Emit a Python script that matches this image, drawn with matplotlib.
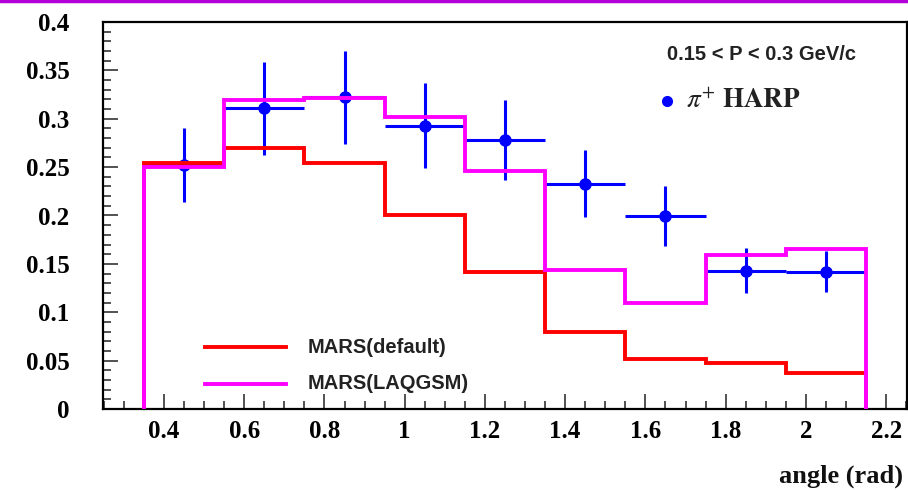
import numpy as np
import matplotlib
matplotlib.use("Agg")
import matplotlib.pyplot as plt
from matplotlib.lines import Line2D
from matplotlib.ticker import MultipleLocator

plt.rcParams['mathtext.fontset'] = 'stix'

# Data
bin_edges = [0.35, 0.55, 0.75, 0.95, 1.15, 1.35, 1.55, 1.75, 1.95, 2.15]
mars_default = [0.254, 0.270, 0.254, 0.201, 0.142, 0.080, 0.052, 0.048, 0.037]
mars_laqgsm = [0.250, 0.319, 0.321, 0.302, 0.246, 0.144, 0.110, 0.159, 0.165]
harp_x = [0.45, 0.65, 0.85, 1.05, 1.25, 1.45, 1.65, 1.85, 2.05]
harp_y = [0.252, 0.311, 0.322, 0.293, 0.278, 0.233, 0.199, 0.143, 0.142]
harp_yerr = [0.038, 0.048, 0.048, 0.044, 0.041, 0.035, 0.031, 0.023, 0.021]
harp_xerr = [0.1] * 9

fig = plt.figure(figsize=(9.08, 4.90), dpi=100)
ax = fig.add_axes([103/908, 1-409/490, (907-103)/908, (409-22)/490])

def step_outline(edges, vals):
    xs = [edges[0]]
    ys = [0.0]
    for i, v in enumerate(vals):
        xs += [edges[i], edges[i+1]]
        ys += [v, v]
    xs.append(edges[-1])
    ys.append(0.0)
    return xs, ys

ax.errorbar(harp_x, harp_y, xerr=harp_xerr, yerr=harp_yerr, fmt='o', color='#0000ff',
            ms=8, elinewidth=2.2, capsize=0, zorder=2)

xr, yr = step_outline(bin_edges, mars_default)
ax.plot(xr, yr, color='#ff0000', lw=2.8, zorder=3, solid_joinstyle='miter')
xm, ym = step_outline(bin_edges, mars_laqgsm)
ax.plot(xm, ym, color='#ff00ff', lw=2.8, zorder=4, solid_joinstyle='miter')

ax.set_xlim(0.248, 2.252)
ax.set_ylim(0, 0.4)
ax.xaxis.set_major_locator(MultipleLocator(0.2))
ax.xaxis.set_minor_locator(MultipleLocator(0.05))
ax.yaxis.set_major_locator(MultipleLocator(0.05))
ax.yaxis.set_minor_locator(MultipleLocator(0.01))

def fmt(v, pos):
    s = ('%.2f' % v).rstrip('0').rstrip('.')
    return s
ax.xaxis.set_major_formatter(plt.FuncFormatter(fmt))
ax.yaxis.set_major_formatter(plt.FuncFormatter(fmt))

ax.tick_params(which='both', direction='in', top=False, right=False, width=1.2, color='#333333')
ax.tick_params(which='major', length=11)
ax.tick_params(which='minor', length=6)
ax.tick_params(axis='x', which='major', pad=8)
ax.tick_params(axis='y', which='major', pad=24)
for lab in ax.get_xticklabels() + ax.get_yticklabels():
    lab.set_fontfamily('Liberation Serif')
    lab.set_fontweight('bold')
    lab.set_fontsize(18)
for sp in ax.spines.values():
    sp.set_linewidth(1.6)

# Legend lines
ax.plot([0.502, 0.703], [0.064, 0.064], color='#ff0000', lw=2.8)
ax.plot([0.502, 0.703], [0.026, 0.026], color='#ff00ff', lw=2.8)
ax.text(0.757, 0.064, 'MARS(default)', fontfamily='Liberation Sans', fontweight='bold',
        fontsize=14.5, va='center', ha='left', color='#222222')
ax.text(0.757, 0.026, 'MARS(LAQGSM)', fontfamily='Liberation Sans', fontweight='bold',
        fontsize=14.5, va='center', ha='left', color='#222222')

ax.text(1.890, 0.366, '0.15 < P < 0.3 GeV/c', fontfamily='Liberation Sans', fontweight='bold',
        fontsize=14.5, va='center', ha='center', color='#222222')
ax.plot([1.655], [0.318], 'o', color='#0000ff', ms=7)
ax.text(1.70, 0.318, r'$\pi^{+}\ \mathbf{HARP}$', fontsize=19.5, va='center', ha='left',
        color='#222222')

fig.text(903/908, 1-483/490, 'angle (rad)', fontfamily='Liberation Serif', fontweight='bold',
         fontsize=19, ha='right', va='baseline', color='#111111')

fig.add_artist(Line2D([0, 1], [1-1.5/490, 1-1.5/490], color='#b400d8', lw=2.5,
                      transform=fig.transFigure))

fig.savefig('out.png', dpi=100)
